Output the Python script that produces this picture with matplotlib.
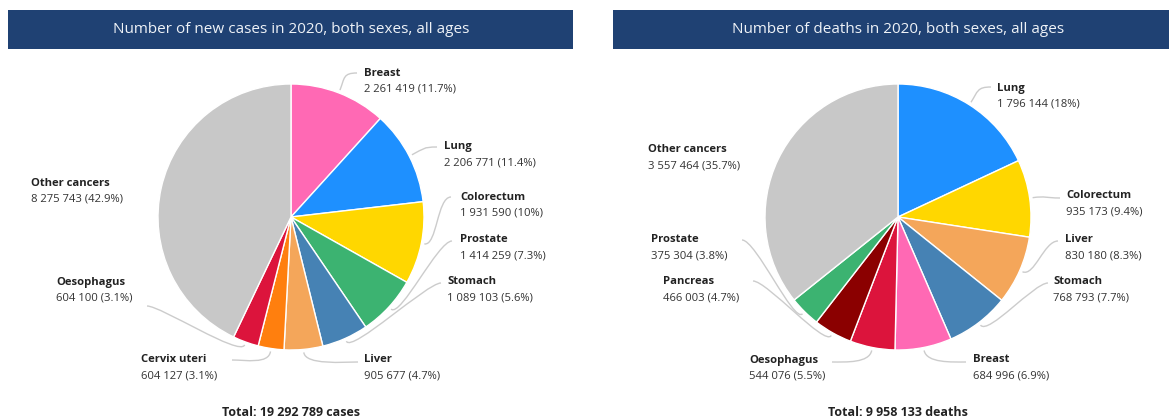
import matplotlib
matplotlib.use("Agg")
import matplotlib.pyplot as plt
from matplotlib.patches import Rectangle, PathPatch
from matplotlib.path import Path
import numpy as np

plt.rcParams['font.family'] = ['Open Sans', 'DejaVu Sans']

# ---------------- data ----------------
cases_labels = ['Breast', 'Lung', 'Colorectum', 'Prostate', 'Stomach', 'Liver',
                'Cervix uteri', 'Oesophagus', 'Other cancers']
cases_values = [2261419, 2206771, 1931590, 1414259, 1089103, 905677,
                604127, 604100, 8275743]
cases_colors = ['#ff69b4', '#1e90ff', '#ffd700', '#3cb371', '#4682b4', '#f4a65a',
                '#ff7f0e', '#dc143c', '#c8c8c8']

deaths_labels = ['Lung', 'Colorectum', 'Liver', 'Stomach', 'Breast', 'Oesophagus',
                 'Pancreas', 'Prostate', 'Other cancers']
deaths_values = [1796144, 935173, 830180, 768793, 684996, 544076,
                 466003, 375304, 3557464]
deaths_colors = ['#1e90ff', '#ffd700', '#f4a65a', '#4682b4', '#ff69b4', '#dc143c',
                 '#8b0000', '#3cb371', '#c8c8c8']

titles = ['Number of new cases in 2020, both sexes, all ages',
          'Number of deaths in 2020, both sexes, all ages']
total_units = ['cases', 'deaths']

# ---------------- layout (pixels, y down) ----------------
W, H = 1169, 420
centers = [(291, 217), (898, 217)]
radius = 133
bars = [(8, 10, 565, 39), (613, 10, 570, 39)]

# label text position (left x, y of name line) and leader anchor (x, y, side)
cases_text = [(364, 73), (444, 147), (460, 197), (460, 240), (447, 282),
              (364, 360), (141, 360), (56, 282), (31, 183)]
cases_anchor = [(357, 73, 1), (437, 147, 1), (451, 197, 1), (452, 241, 1),
                (441, 283, 1), (358, 362, 1), (232, 360, -1), (147, 306, -1), None]
deaths_text = [(997, 88), (1066, 196), (1065, 240), (1053, 282), (973, 360),
               (749, 360), (663, 282), (651, 240), (648, 150)]
deaths_anchor = [(991, 87, 1), (1060, 198, 1), (1058, 241, 1), (1048, 283, 1),
                 (966, 362, 1), (832, 362, -1), (753, 281, -1), (742, 240, -1), None]


def Y(y):
    return H - y


def fmt(v):
    return f"{v:,}".replace(',', ' ')


def pct(v, tot):
    p = round(100 * v / tot, 1)
    s = f"{p:.1f}"
    if s.endswith('.0'):
        s = s[:-2]
    return s + '%'


fig = plt.figure(figsize=(W / 100, H / 100), dpi=100)
ax = fig.add_axes([0, 0, 1, 1])

panels = [
    (cases_labels, cases_values, cases_colors, cases_text, cases_anchor),
    (deaths_labels, deaths_values, deaths_colors, deaths_text, deaths_anchor),
]

for i, (labels, values, colors, tpos, anchors) in enumerate(panels):
    cx, cy = centers[i]
    ax.pie(values, colors=colors, startangle=90, counterclock=False,
           center=(cx, Y(cy)), radius=radius,
           wedgeprops=dict(edgecolor='white', linewidth=1.0))
    tot = sum(values)
    cum = np.cumsum([0] + list(values)) / tot * 360.0
    for j, lab in enumerate(labels):
        tx, ty = tpos[j]
        ax.text(tx, Y(ty), lab, fontsize=8.1, fontweight='bold', color='#222222',
                ha='left', va='center')
        ax.text(tx, Y(ty + 16), f"{fmt(values[j])} ({pct(values[j], tot)})",
                fontsize=8.1, color='#333333', ha='left', va='center')
        if anchors[j] is None:
            continue
        mid = np.deg2rad((cum[j] + cum[j + 1]) / 2)
        d = np.array([np.sin(mid), -np.cos(mid)])  # pixel coords, y down
        s = np.array([cx, cy]) + d * (radius + 3)
        c1 = np.array([cx, cy]) + d * (radius + 16)
        ax_, ay_, side = anchors[j]
        e = np.array([ax_, ay_], dtype=float)
        c2 = e - np.array([side * 14, 0])
        pts = [s, c1, c2, e]
        verts = [(p[0], Y(p[1])) for p in pts]
        path = Path(verts, [Path.MOVETO, Path.CURVE4, Path.CURVE4, Path.CURVE4])
        ax.add_patch(PathPatch(path, facecolor='none', edgecolor='#cccccc',
                               linewidth=1.0))
    # title bar
    bx, by, bw, bh = bars[i]
    ax.add_patch(Rectangle((bx, Y(by + bh)), bw, bh, facecolor='#1f4173',
                           edgecolor='none'))
    ax.text(cx, Y(by + bh / 2), titles[i], fontsize=11, color='#eef2f7',
            ha='center', va='center')
    ax.text(cx, Y(412), f"Total: {fmt(tot)} {total_units[i]}", fontsize=9,
            fontweight='bold', color='#222222', ha='center', va='center')

ax.set_xlim(0, W)
ax.set_ylim(0, H)
ax.set_aspect('auto')
ax.axis('off')
fig.savefig('out.png', dpi=100, facecolor='white')
